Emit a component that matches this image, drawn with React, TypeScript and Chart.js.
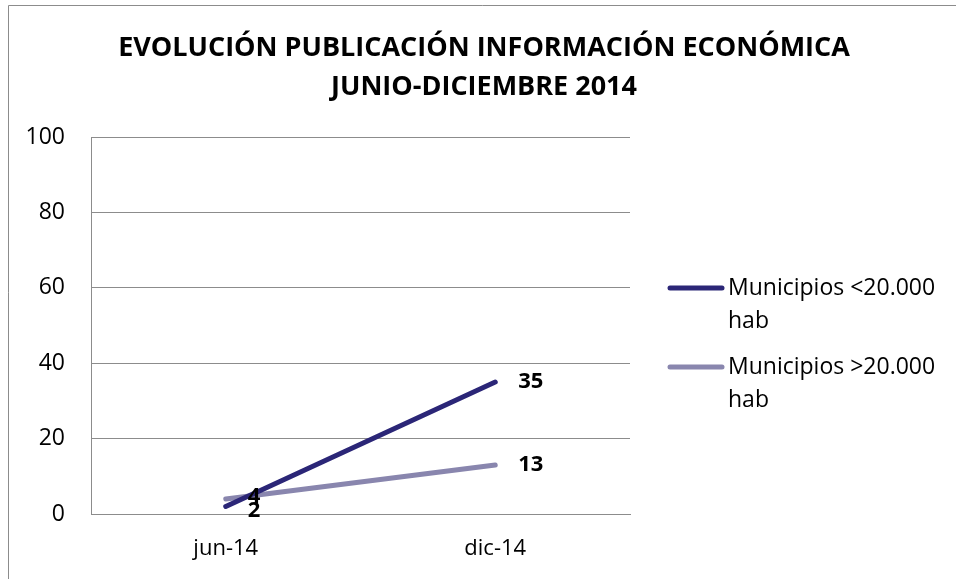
import React, { useEffect, useRef } from "react";
import { Chart, registerables } from "chart.js";

Chart.register(...registerables);

const categories = ["jun-14", "dic-14"];
const seriesNames = ["Municipios <20.000 hab", "Municipios >20.000 hab"];
const legendLines = [["Municipios <20.000", "hab"], ["Municipios >20.000", "hab"]];
const smallMunicipios = [2, 35];
const largeMunicipios = [4, 13];
const seriesColors = ["#2B2677", "#8986AE"];
const titleLines = ["EVOLUCIÓN PUBLICACIÓN INFORMACIÓN ECONÓMICA", "JUNIO-DICIEMBRE 2014"];
const yTicks = [0, 20, 40, 60, 80, 100];

const FONT = "'Open Sans', sans-serif";

const extrasPlugin = {
  id: "extras",
  afterDatasetsDraw(chart: any) {
    const ctx = chart.ctx;
    ctx.save();
    // title
    ctx.fillStyle = "#000";
    ctx.textAlign = "center";
    ctx.textBaseline = "middle";
    ctx.font = `bold 27px ${FONT}`;
    ctx.fillText(titleLines[0], 484, 48);
    ctx.fillText(titleLines[1], 484, 87);
    // data labels
    ctx.font = `bold 22px ${FONT}`;
    ctx.textAlign = "left";
    chart.data.datasets.forEach((ds: any, i: number) => {
      const meta = chart.getDatasetMeta(i);
      meta.data.forEach((pt: any, j: number) => {
        const v = ds.data[j];
        let dx = 23;
        let dy = 0;
        if (j === 0) {
          dx = 22;
          dy = i === 0 ? 4 : -2;
        }
        ctx.fillText(String(v), pt.x + dx, pt.y + dy);
      });
    });
    // legend
    const lx = 670;
    const startY = [288, 367];
    ctx.font = `23px ${FONT}`;
    chart.data.datasets.forEach((ds: any, i: number) => {
      const y = startY[i];
      ctx.strokeStyle = ds.borderColor;
      ctx.lineWidth = 5;
      ctx.lineCap = "round";
      ctx.beginPath();
      ctx.moveTo(lx, y);
      ctx.lineTo(lx + 52, y);
      ctx.stroke();
      ctx.fillStyle = "#000";
      legendLines[i].forEach((t, k) => {
        ctx.fillText(t, lx + 58, y + k * 33);
      });
    });
    // frame
    ctx.strokeStyle = "#8c8c8c";
    ctx.lineWidth = 1;
    ctx.lineCap = "butt";
    ctx.beginPath();
    ctx.moveTo(8.5, 579);
    ctx.lineTo(8.5, 5.5);
    ctx.lineTo(956, 5.5);
    ctx.stroke();
    ctx.restore();
  },
};

export default function App() {
  const ref = useRef<HTMLCanvasElement>(null);
  useEffect(() => {
    const prevMargin = document.body.style.margin;
    document.body.style.margin = "0";
    const chart = new Chart(ref.current!, {
      type: "line",
      data: {
        labels: categories,
        datasets: [
          {
            label: seriesNames[0],
            data: smallMunicipios,
            borderColor: seriesColors[0],
            backgroundColor: seriesColors[0],
            borderWidth: 5,
            pointRadius: 0,
            borderCapStyle: "round",
          },
          {
            label: seriesNames[1],
            data: largeMunicipios,
            borderColor: seriesColors[1],
            backgroundColor: seriesColors[1],
            borderWidth: 5,
            pointRadius: 0,
            borderCapStyle: "round",
          },
        ],
      },
      plugins: [extrasPlugin],
      options: {
        responsive: false,
        animation: false,
        layout: { padding: { left: 0, right: 326, top: 137, bottom: 15 } },
        plugins: {
          legend: { display: false },
          tooltip: { enabled: false },
          title: { display: false },
        },
        scales: {
          x: {
            offset: true,
            grid: { display: false, drawTicks: false },
            border: { display: true, color: "#8c8c8c", width: 1 },
            ticks: { color: "#000", font: { family: FONT, size: 22 }, padding: 22, maxRotation: 0 },
            afterFit: (s: any) => {
              s.height = 50;
            },
          },
          y: {
            min: 0,
            max: 100,
            afterBuildTicks: (s: any) => {
              s.ticks = yTicks.map((v) => ({ value: v }));
            },
            afterFit: (s: any) => {
              s.width = 91;
            },
            grid: { color: "#8c8c8c", lineWidth: 1, drawTicks: false },
            border: { display: true, color: "#8c8c8c", width: 1 },
            ticks: { color: "#000", font: { family: FONT, size: 23 }, padding: 26 },
          },
        },
      },
    });
    return () => {
      chart.destroy();
      document.body.style.margin = prevMargin;
    };
  }, []);
  return (
    <div style={{ position: "absolute", left: 0, top: 0, width: 956, height: 579, background: "#fff" }}>
      <canvas ref={ref} width={956} height={579} />
    </div>
  );
}
